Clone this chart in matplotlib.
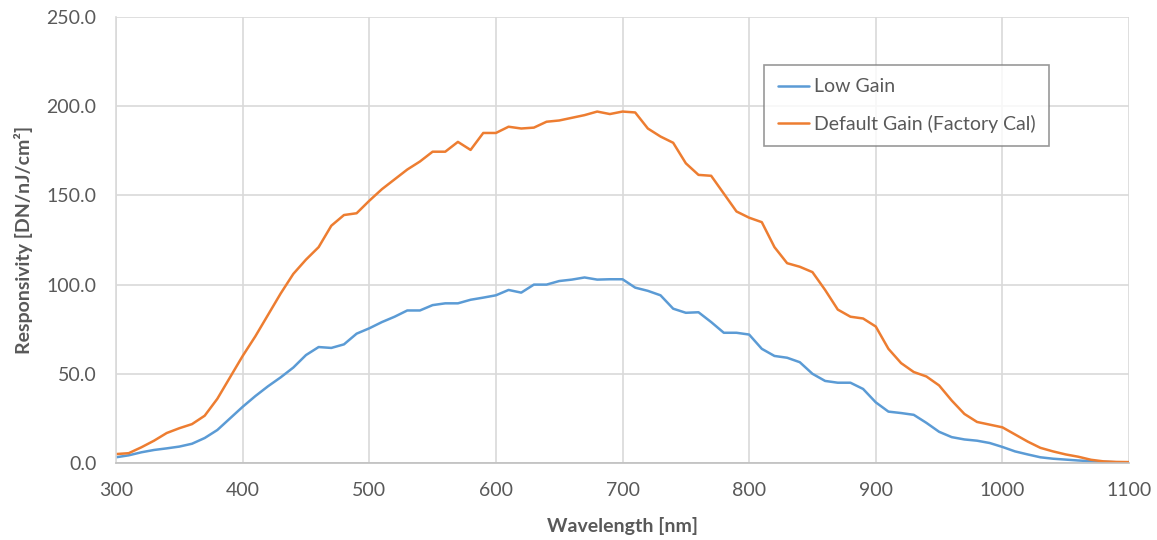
import matplotlib
matplotlib.use("Agg")
import matplotlib.pyplot as plt
from matplotlib.ticker import FormatStrFormatter, MultipleLocator

# Wavelength grid (nm) at 10 nm steps
wavelength = list(range(300, 1101, 10))

low_gain = [
    3.2, 4.3, 6.0, 7.3, 8.2, 9.2, 10.8, 14.0, 18.5, 25.0,
    31.5, 37.5, 43.0, 48.0, 53.5, 60.5, 65.0, 64.5, 66.5, 72.5,
    75.5, 79.0, 82.0, 85.5, 85.5, 88.5, 89.5, 89.5, 91.5, 92.7,
    94.0, 97.0, 95.5, 100.0, 100.0, 102.0, 102.8, 104.0, 102.8, 103.0,
    103.0, 98.3, 96.5, 94.0, 86.5, 84.2, 84.5, 79.0, 73.0, 73.0,
    72.0, 64.0, 60.0, 59.0, 56.5, 50.0, 46.0, 45.0, 45.0, 41.5,
    34.0, 28.8, 28.0, 27.0, 22.5, 17.5, 14.5, 13.2, 12.5, 11.2,
    9.0, 6.5, 4.8, 3.2, 2.4, 1.9, 1.4, 1.0, 0.7, 0.4,
    0.2,
]

default_gain = [
    5.0, 5.5, 8.8, 12.5, 16.8, 19.5, 21.8, 26.5, 36.0, 48.0,
    60.0, 71.0, 83.0, 95.0, 106.0, 114.0, 121.0, 133.0, 139.0, 140.0,
    147.0, 153.5, 159.0, 164.5, 169.0, 174.5, 174.5, 180.0, 175.5, 185.0,
    185.0, 188.5, 187.5, 188.0, 191.3, 192.0, 193.5, 195.0, 197.0, 195.6,
    197.0, 196.5, 187.5, 183.0, 179.5, 168.0, 161.5, 161.0, 151.0, 141.0,
    137.5, 135.0, 121.0, 112.0, 110.0, 107.0, 97.0, 86.0, 82.0, 81.0,
    76.5, 64.0, 56.0, 51.0, 48.5, 43.5, 35.0, 27.5, 23.0, 21.5,
    20.0, 16.0, 12.0, 8.5, 6.5, 4.8, 3.5, 1.8, 0.9, 0.6,
    0.5,
]

series_names = ["Low Gain", "Default Gain (Factory Cal)"]

TEXT = "#595959"
GRID = "#d9d9d9"

plt.rcParams["font.family"] = ["Lato", "DejaVu Sans"]

fig = plt.figure(figsize=(11.57, 5.40), dpi=100)
ax = fig.add_axes([0.1003, 0.1426, 0.8755, 0.8259])

line_kw = dict(lw=1.8, solid_joinstyle="round", solid_capstyle="round")
ax.plot(wavelength, low_gain, color="#5B9BD5", label=series_names[0], **line_kw)
ax.plot(wavelength, default_gain, color="#ED7D31", label=series_names[1], **line_kw)

ax.set_xlim(300, 1100)
ax.set_ylim(0, 250)
ax.xaxis.set_major_locator(MultipleLocator(100))
ax.yaxis.set_major_locator(MultipleLocator(50))
ax.yaxis.set_major_formatter(FormatStrFormatter("%.1f"))

ax.grid(True, color=GRID, lw=1.2)
ax.set_axisbelow(True)
for side in ["top", "right"]:
    ax.spines[side].set_visible(False)
ax.spines["left"].set_color(GRID)
ax.spines["left"].set_linewidth(1.2)
ax.spines["bottom"].set_color("#bfbfbf")
ax.spines["bottom"].set_linewidth(1.2)

ax.tick_params(axis="both", length=0, labelsize=14, labelcolor=TEXT)
ax.tick_params(axis="x", pad=14)
ax.tick_params(axis="y", pad=14)

ax.set_xlabel("Wavelength [nm]", fontsize=14, fontweight="bold", color=TEXT, labelpad=13)
ax.set_ylabel("Responsivity [DN/nJ/cm²]", fontsize=14, fontweight="bold", color=TEXT, labelpad=10)

leg = ax.legend(
    loc="upper left",
    bbox_to_anchor=(0.64, 0.893),
    fontsize=14,
    frameon=True,
    fancybox=False,
    handlelength=1.6,
    handletextpad=0.25,
    labelspacing=1.0,
    borderpad=0.7,
    borderaxespad=0,
)
leg.get_frame().set_edgecolor("#7f7f7f")
leg.get_frame().set_linewidth(1.2)
for t in leg.get_texts():
    t.set_color(TEXT)

fig.savefig("out.png", dpi=100, facecolor="white")
